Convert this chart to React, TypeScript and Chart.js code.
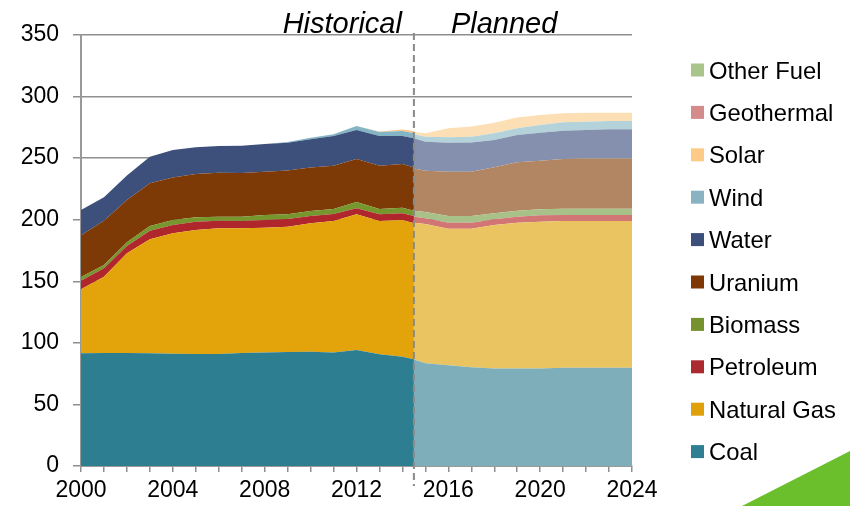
import React, { useEffect, useRef } from 'react';
import { Chart, registerables } from 'chart.js';

Chart.register(...registerables);

// Fuel categories, bottom of the stack first
const fuels = ['Coal', 'Natural Gas', 'Petroleum', 'Biomass', 'Uranium', 'Water', 'Wind', 'Solar', 'Geothermal', 'Other Fuel'];

// Boundary between historical and planned capacity
const splitYear = 2014.5;

// Historical years (the last point closes the series at the boundary)
const histYears = [2000, 2001, 2002, 2003, 2004, 2005, 2006, 2007, 2008, 2009, 2010, 2011, 2012, 2013, 2014, 2014.5];
const histCoal = [91.5, 91.7, 91.8, 91.5, 91.2, 91.0, 91.0, 91.8, 92.2, 92.6, 92.8, 92.2, 94.2, 90.7, 88.8, 86.6];
const histGas = [52.0, 62.0, 80.9, 92.6, 97.8, 100.7, 102.0, 101.2, 101.3, 101.7, 104.3, 106.8, 110.2, 108.3, 111.0, 110.5];
const histPetroleum = [7.0, 6.8, 6.0, 7.0, 6.7, 6.7, 6.2, 6.0, 6.3, 6.3, 5.9, 5.6, 4.9, 5.4, 5.4, 5.9];
const histBiomass = [3.0, 2.7, 3.0, 3.8, 4.1, 3.6, 3.3, 3.5, 4.0, 3.8, 4.1, 4.1, 5.1, 4.3, 4.6, 4.3];
const histUranium = [33.8, 36.0, 34.3, 34.7, 34.4, 35.1, 35.7, 35.4, 35.2, 35.6, 35.2, 35.2, 34.9, 35.2, 35.5, 35.0];
const histWater = [20.6, 19.0, 20.0, 21.6, 22.4, 21.7, 21.7, 22.1, 22.5, 22.6, 23.0, 24.1, 23.6, 24.1, 22.7, 23.8];
const histWind = [0, 0, 0, 0, 0, 0, 0, 0, 0, 0.5, 1.3, 1.4, 3.2, 3.2, 4.0, 4.1];
const histSolar = [0, 0, 0, 0, 0, 0, 0, 0, 0, 0, 0, 0, 0, 0.5, 1.3, 1.8];
const histGeothermal = [0, 0, 0, 0, 0, 0, 0, 0, 0, 0, 0, 0, 0, 0, 0, 0];
const histOther = [0, 0, 0, 0, 0, 0, 0, 0, 0, 0, 0, 0, 0, 0, 0, 0];

// Planned years
const planYears = [2014.5, 2015, 2016, 2017, 2018, 2019, 2020, 2021, 2022, 2023, 2024];
const planCoal = [86.6, 83.4, 81.8, 80.2, 79.1, 79.1, 79.1, 79.8, 79.8, 79.8, 79.8];
const planGas = [111.0, 113.1, 110.9, 112.5, 116.6, 118.5, 119.3, 119.2, 119.2, 119.2, 119.2];
const planPetroleum = [4.9, 4.6, 4.9, 4.9, 4.6, 4.9, 5.2, 4.8, 4.8, 4.8, 4.8];
const planBiomass = [4.8, 5.2, 5.4, 5.4, 4.9, 4.8, 4.8, 5.2, 5.2, 5.2, 5.2];
const planUranium = [34.4, 33.5, 36.0, 36.0, 37.4, 39.3, 39.5, 40.3, 40.8, 40.8, 40.8];
const planWater = [24.4, 23.6, 23.6, 23.8, 22.1, 22.2, 22.8, 23.0, 23.1, 23.6, 23.6];
const planWind = [3.3, 4.0, 4.3, 4.6, 5.5, 5.4, 6.2, 6.8, 6.7, 6.8, 6.8];
const planSolar = [1.8, 2.8, 7.3, 8.2, 8.6, 8.9, 8.1, 7.3, 7.3, 6.7, 6.7];
const planGeothermal = [0, 0, 0, 0, 0, 0, 0, 0, 0, 0, 0];
const planOther = [0, 0, 0, 0, 0, 0, 0, 0, 0, 0, 0];

// Axis ticks
const yTicks = [0, 50, 100, 150, 200, 250, 300, 350];
const xLabelYears = [2000, 2004, 2008, 2012, 2016, 2020, 2024];

const histValues = [histCoal, histGas, histPetroleum, histBiomass, histUranium, histWater, histWind, histSolar, histGeothermal, histOther];
const planValues = [planCoal, planGas, planPetroleum, planBiomass, planUranium, planWater, planWind, planSolar, planGeothermal, planOther];

const legendColors = ['#2f7e92', '#e0a00a', '#ab2a2f', '#76922e', '#7f3706', '#3c4e7a', '#8ab3c1', '#fdca88', '#d48b8b', '#a9c58b'];
const histColors = ['#2e7e92', '#e2a40a', '#b0262d', '#76962e', '#7d3906', '#3d4f7b', '#83b5c4', '#fcc88a', '#d48b8b', '#a9c58b'];
const planColors = ['#7eaeba', '#ebc462', '#d17575', '#a8c189', '#b28563', '#8490ad', '#b4d2da', '#fddfb5', '#e6b9b9', '#cddcbc'];

const FONT = '"Liberation Sans", Arial, sans-serif';

const overlayPlugin = {
  id: 'overlay',
  afterDraw(chart: any) {
    const { ctx, scales } = chart;
    const xs = scales.x.getPixelForValue(splitYear);
    ctx.save();

    // period divider
    ctx.strokeStyle = '#8a8a8a';
    ctx.lineWidth = 2;
    ctx.setLineDash([7, 4]);
    ctx.beginPath();
    ctx.moveTo(xs, 33);
    ctx.lineTo(xs, 486);
    ctx.stroke();
    ctx.setLineDash([]);

    // period labels
    ctx.fillStyle = '#000';
    ctx.font = `italic 29px ${FONT}`;
    ctx.textBaseline = 'alphabetic';
    ctx.textAlign = 'right';
    ctx.fillText('Historical', xs - 12, 33);
    ctx.textAlign = 'left';
    ctx.fillText('Planned', xs + 37, 33);

    // legend, top of the stack first
    ctx.font = `23.8px ${FONT}`;
    for (let i = 0; i < fuels.length; i++) {
      const idx = fuels.length - 1 - i;
      const cy = 70 + i * 42.4;
      ctx.fillStyle = legendColors[idx];
      ctx.fillRect(691, cy - 6.5, 13, 13);
      ctx.fillStyle = '#000';
      ctx.fillText(fuels[idx], 709, cy + 8.5);
    }

    // corner accent
    ctx.fillStyle = '#6cbf2c';
    ctx.beginPath();
    ctx.moveTo(742, 506);
    ctx.lineTo(850, 451);
    ctx.lineTo(850, 506);
    ctx.closePath();
    ctx.fill();

    ctx.restore();
  },
};

export default function App() {
  const canvasRef = useRef<HTMLCanvasElement | null>(null);

  useEffect(() => {
    const canvas = canvasRef.current;
    if (!canvas) return;

    const datasets: any[] = [];
    fuels.forEach((name, i) => {
      datasets.push({
        label: name,
        stack: 'historical',
        data: histYears.map((yr, j) => ({ x: yr, y: histValues[i][j] })),
        backgroundColor: histColors[i],
        borderColor: 'rgba(0,0,0,0)',
        borderWidth: 0,
        pointRadius: 0,
        fill: i === 0 ? 'origin' : '-1',
        tension: 0,
      });
    });
    fuels.forEach((name, i) => {
      datasets.push({
        label: name + ' (planned)',
        stack: 'planned',
        data: planYears.map((yr, j) => ({ x: yr, y: planValues[i][j] })),
        backgroundColor: planColors[i],
        borderColor: 'rgba(0,0,0,0)',
        borderWidth: 0,
        pointRadius: 0,
        fill: i === 0 ? 'origin' : '-1',
        tension: 0,
      });
    });

    const chart = new Chart(canvas, {
      type: 'line',
      data: { datasets },
      plugins: [overlayPlugin],
      options: {
        animation: false,
        responsive: false,
        devicePixelRatio: 1,
        layout: { padding: { left: 0, top: 35, right: 218, bottom: 0 } },
        plugins: {
          legend: { display: false },
          tooltip: { enabled: false },
        },
        scales: {
          x: {
            type: 'linear',
            min: 2000,
            max: 2024,
            afterFit: (scale: any) => {
              scale.height = 40;
            },
            grid: {
              drawOnChartArea: false,
              drawTicks: true,
              tickLength: 6,
              color: '#8f8f8f',
              lineWidth: 1.5,
            },
            border: { display: true, color: '#999999', width: 2 },
            ticks: {
              stepSize: 1,
              autoSkip: false,
              maxRotation: 0,
              padding: 5,
              color: '#000',
              font: { family: FONT, size: 23 },
              callback: (v: any) => (xLabelYears.includes(Number(v)) ? String(v) : ''),
            },
          },
          y: {
            stacked: true,
            min: yTicks[0],
            max: yTicks[yTicks.length - 1],
            afterFit: (scale: any) => {
              scale.width = 81;
            },
            afterBuildTicks: (scale: any) => {
              scale.ticks = yTicks.map((v) => ({ value: v }));
            },
            grid: {
              color: '#8f8f8f',
              lineWidth: 1.5,
              tickLength: 8,
            },
            border: { display: true, color: '#999999', width: 2 },
            ticks: {
              padding: 14,
              color: '#000',
              font: { family: FONT, size: 23 },
            },
          },
        },
      },
    });

    return () => chart.destroy();
  }, []);

  return (
    <div style={{ position: 'absolute', left: 0, top: 0, width: 850, height: 506, background: '#fff' }}>
      <canvas ref={canvasRef} width={850} height={506} style={{ display: 'block' }} />
    </div>
  );
}
